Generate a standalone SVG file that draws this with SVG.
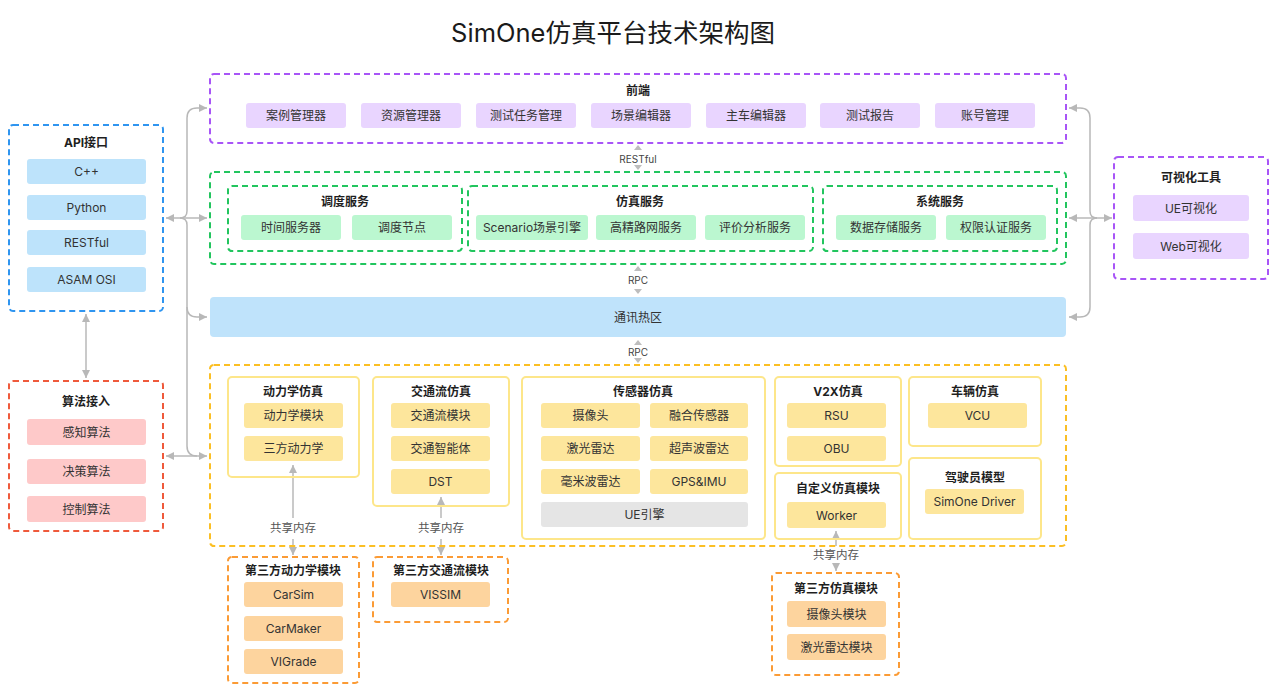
<svg xmlns="http://www.w3.org/2000/svg" width="1280" height="690" viewBox="0 0 1280 690">
<defs>
<marker id="ah" viewBox="0 0 8 8" markerWidth="8" markerHeight="8" refX="8" refY="4" orient="auto-start-reverse" markerUnits="userSpaceOnUse"><path d="M0,0 L8,4 L0,8 z" fill="#b8b8b8"/></marker>
<style>
text{font-family:Inter,"Noto Sans CJK SC",sans-serif;text-anchor:middle;dominant-baseline:central}
.t{font-size:12px;fill:#333}
.h{font-size:12px;font-weight:700;fill:#1f1f1f}
.lbl{font-size:10px;fill:#444}
.sm{font-size:11.5px;fill:#555}
.dash{fill:none;stroke-width:2;stroke-dasharray:6 4}
.pu{stroke:#a855f7}.gr{stroke:#22c55e}.bl{stroke:#2f95f0}.rd{stroke:#ef5a3c}.ye{stroke:#fbbf24}.or{stroke:#fb9b35}
.sub{fill:none;stroke:#fde68a;stroke-width:2}
.ip{fill:#e9d5ff}.ig{fill:#bbf7d0}.ib{fill:#bde3fb}.ir{fill:#fec9c9}.iy{fill:#fde69c}.io{fill:#fdd49e}.ig2{fill:#e5e5e5}
.c{fill:none;stroke:#b8b8b8;stroke-width:1.5}
.tri{fill:#bdbdbd}
</style>
</defs>
<rect width="1280" height="690" fill="#ffffff"/>
<text x="613" y="32" style="font-size:25.5px;fill:#1a1a1a">SimOne仿真平台技术架构图</text>

<g id="connectors">
<path class="c" d="M180 218 Q187 218 187 211 V118 Q187 108 197 108 H207" marker-end="url(#ah)"/>
<path class="c" d="M180 218 Q187 218 187 225 V446 Q187 456 197 456"/>
<path class="c" d="M187 307 Q187 317 197 317 H207" marker-end="url(#ah)"/>
<line class="c" x1="166" y1="218" x2="207" y2="218" marker-start="url(#ah)" marker-end="url(#ah)"/>
<line class="c" x1="166" y1="456" x2="207" y2="456" marker-start="url(#ah)" marker-end="url(#ah)"/>
<line class="c" x1="86" y1="314" x2="86" y2="378" marker-start="url(#ah)" marker-end="url(#ah)"/>
<path class="c" d="M1097 218 Q1090 218 1090 211 V118 Q1090 108 1080 108 H1069" marker-end="url(#ah)"/>
<path class="c" d="M1097 218 Q1090 218 1090 225 V307 Q1090 317 1080 317 H1069" marker-end="url(#ah)"/>
<line class="c" x1="1069" y1="218" x2="1112" y2="218" marker-start="url(#ah)" marker-end="url(#ah)"/>
<polygon class="tri" points="634,150 642,150 638,145"/>
<polygon class="tri" points="634,165 642,165 638,170"/>
<text class="lbl" x="638" y="159">RESTful</text>
<polygon class="tri" points="634,271 642,271 638,266"/>
<polygon class="tri" points="634,289 642,289 638,294"/>
<text class="lbl" x="638" y="280">RPC</text>
<polygon class="tri" points="634,345 642,345 638,340"/>
<polygon class="tri" points="634,358 642,358 638,363"/>
<text class="lbl" x="638" y="352">RPC</text>
<line class="c" x1="293" y1="518" x2="293" y2="465" marker-end="url(#ah)"/>
<line class="c" x1="293" y1="539" x2="293" y2="555" marker-end="url(#ah)"/>
<text class="sm" x="293" y="528">共享内存</text>
<line class="c" x1="441" y1="518" x2="441" y2="497" marker-end="url(#ah)"/>
<line class="c" x1="441" y1="539" x2="441" y2="555" marker-end="url(#ah)"/>
<text class="sm" x="441" y="528">共享内存</text>
<line class="c" x1="836" y1="546" x2="836" y2="531" marker-end="url(#ah)"/>
<line class="c" x1="836" y1="564" x2="836" y2="571" marker-end="url(#ah)"/>
<text class="sm" x="836" y="555">共享内存</text>
</g>

<g id="frontend">
<rect class="dash pu" x="210" y="74" width="856" height="69" rx="4"/>
<text class="h" x="638" y="90">前端</text>
<rect class="ip" x="246" y="103" width="100" height="25" rx="3"/><text class="t" x="296" y="115.5">案例管理器</text>
<rect class="ip" x="361" y="103" width="100" height="25" rx="3"/><text class="t" x="411" y="115.5">资源管理器</text>
<rect class="ip" x="476" y="103" width="100" height="25" rx="3"/><text class="t" x="526" y="115.5">测试任务管理</text>
<rect class="ip" x="591" y="103" width="100" height="25" rx="3"/><text class="t" x="641" y="115.5">场景编辑器</text>
<rect class="ip" x="706" y="103" width="100" height="25" rx="3"/><text class="t" x="756" y="115.5">主车编辑器</text>
<rect class="ip" x="820" y="103" width="100" height="25" rx="3"/><text class="t" x="870" y="115.5">测试报告</text>
<rect class="ip" x="935" y="103" width="100" height="25" rx="3"/><text class="t" x="985" y="115.5">账号管理</text>
</g>

<g id="services">
<rect class="dash gr" x="210" y="172" width="856" height="92" rx="4"/>
<g id="sched">
<rect class="dash gr" x="228" y="186" width="234" height="65" rx="4"/>
<text class="h" x="345" y="201">调度服务</text>
<rect class="ig" x="241" y="215" width="100" height="25" rx="3"/><text class="t" x="291" y="227.5">时间服务器</text>
<rect class="ig" x="352" y="215" width="100" height="25" rx="3"/><text class="t" x="402" y="227.5">调度节点</text>
</g>
<g id="simsvc">
<rect class="dash gr" x="468" y="186" width="345" height="65" rx="4"/>
<text class="h" x="640" y="201">仿真服务</text>
<rect class="ig" x="476" y="215" width="112" height="25" rx="3"/><text class="t" x="532" y="227.5">Scenario场景引擎</text>
<rect class="ig" x="596" y="215" width="100" height="25" rx="3"/><text class="t" x="646" y="227.5">高精路网服务</text>
<rect class="ig" x="705" y="215" width="100" height="25" rx="3"/><text class="t" x="755" y="227.5">评价分析服务</text>
</g>
<g id="syssvc">
<rect class="dash gr" x="823" y="186" width="234" height="65" rx="4"/>
<text class="h" x="940" y="201">系统服务</text>
<rect class="ig" x="836" y="215" width="100" height="25" rx="3"/><text class="t" x="886" y="227.5">数据存储服务</text>
<rect class="ig" x="946" y="215" width="100" height="25" rx="3"/><text class="t" x="996" y="227.5">权限认证服务</text>
</g>
</g>

<g id="comm">
<rect x="210" y="297" width="856" height="40" rx="4" fill="#bfe3fb"/>
<text class="t" x="638" y="317">通讯热区</text>
</g>

<g id="simlayer">
<rect class="dash ye" x="210" y="365" width="856" height="181" rx="4"/>
<g id="dyn">
<rect class="sub" x="228" y="377" width="131" height="100" rx="4"/>
<text class="h" x="293" y="391">动力学仿真</text>
<rect class="iy" x="244" y="403" width="99" height="25" rx="3"/><text class="t" x="293.5" y="415.5">动力学模块</text>
<rect class="iy" x="244" y="436" width="99" height="25" rx="3"/><text class="t" x="293.5" y="448.5">三方动力学</text>
</g>
<g id="traffic">
<rect class="sub" x="373" y="377" width="136" height="129" rx="4"/>
<text class="h" x="441" y="391">交通流仿真</text>
<rect class="iy" x="391" y="403" width="99" height="25" rx="3"/><text class="t" x="440.5" y="415.5">交通流模块</text>
<rect class="iy" x="391" y="436" width="99" height="25" rx="3"/><text class="t" x="440.5" y="448.5">交通智能体</text>
<rect class="iy" x="391" y="469" width="99" height="25" rx="3"/><text class="t" x="440.5" y="481.5">DST</text>
</g>
<g id="sensor">
<rect class="sub" x="522" y="377" width="243" height="162" rx="4"/>
<text class="h" x="643" y="391">传感器仿真</text>
<rect class="iy" x="541" y="403" width="99" height="25" rx="3"/><text class="t" x="590.5" y="415.5">摄像头</text>
<rect class="iy" x="650" y="403" width="98" height="25" rx="3"/><text class="t" x="699" y="415.5">融合传感器</text>
<rect class="iy" x="541" y="436" width="99" height="25" rx="3"/><text class="t" x="590.5" y="448.5">激光雷达</text>
<rect class="iy" x="650" y="436" width="98" height="25" rx="3"/><text class="t" x="699" y="448.5">超声波雷达</text>
<rect class="iy" x="541" y="469" width="99" height="25" rx="3"/><text class="t" x="590.5" y="481.5">毫米波雷达</text>
<rect class="iy" x="650" y="469" width="98" height="25" rx="3"/><text class="t" x="699" y="481.5">GPS&amp;IMU</text>
<rect class="ig2" x="541" y="502" width="207" height="25" rx="3"/><text class="t" x="644.5" y="514.5">UE引擎</text>
</g>
<g id="v2x">
<rect class="sub" x="775" y="377" width="126" height="89" rx="4"/>
<text class="h" x="838" y="391">V2X仿真</text>
<rect class="iy" x="787" y="403" width="99" height="25" rx="3"/><text class="t" x="836.5" y="415.5">RSU</text>
<rect class="iy" x="787" y="436" width="99" height="25" rx="3"/><text class="t" x="836.5" y="448.5">OBU</text>
</g>
<g id="custom">
<rect class="sub" x="775" y="473" width="126" height="66" rx="4"/>
<text class="h" x="838" y="488">自定义仿真模块</text>
<rect class="iy" x="787" y="502" width="99" height="26" rx="3"/><text class="t" x="836.5" y="515">Worker</text>
</g>
<g id="vehicle">
<rect class="sub" x="909" y="377" width="132" height="69" rx="4"/>
<text class="h" x="975" y="391">车辆仿真</text>
<rect class="iy" x="928" y="403" width="99" height="25" rx="3"/><text class="t" x="977.5" y="415.5">VCU</text>
</g>
<g id="driver">
<rect class="sub" x="909" y="458" width="132" height="81" rx="4"/>
<text class="h" x="975" y="477">驾驶员模型</text>
<rect class="iy" x="925" y="489" width="99" height="25" rx="3"/><text class="t" x="974.5" y="501.5">SimOne Driver</text>
</g>
</g>

<g id="thirdDyn">
<rect class="dash or" x="228" y="557" width="131" height="126" rx="4"/>
<text class="h" x="293" y="570">第三方动力学模块</text>
<rect class="io" x="244" y="582" width="99" height="25" rx="3"/><text class="t" x="293.5" y="594.5">CarSim</text>
<rect class="io" x="244" y="616" width="99" height="25" rx="3"/><text class="t" x="293.5" y="628.5">CarMaker</text>
<rect class="io" x="244" y="649" width="99" height="25" rx="3"/><text class="t" x="293.5" y="661.5">VIGrade</text>
</g>
<g id="thirdTraffic">
<rect class="dash or" x="373" y="557" width="135" height="65" rx="4"/>
<text class="h" x="441" y="570">第三方交通流模块</text>
<rect class="io" x="391" y="582" width="99" height="25" rx="3"/><text class="t" x="440.5" y="594.5">VISSIM</text>
</g>
<g id="thirdSim">
<rect class="dash or" x="772" y="573" width="127" height="102" rx="4"/>
<text class="h" x="836" y="588">第三方仿真模块</text>
<rect class="io" x="787" y="601" width="99" height="26" rx="3"/><text class="t" x="836.5" y="614">摄像头模块</text>
<rect class="io" x="787" y="634" width="99" height="26" rx="3"/><text class="t" x="836.5" y="647">激光雷达模块</text>
</g>

<g id="api">
<rect class="dash bl" x="9" y="125" width="154" height="186" rx="4"/>
<text class="h" x="86" y="142">API接口</text>
<rect class="ib" x="27" y="159" width="119" height="25" rx="3"/><text class="t" x="86.5" y="171.5">C++</text>
<rect class="ib" x="27" y="195" width="119" height="25" rx="3"/><text class="t" x="86.5" y="207.5">Python</text>
<rect class="ib" x="27" y="230" width="119" height="25" rx="3"/><text class="t" x="86.5" y="242.5">RESTful</text>
<rect class="ib" x="27" y="267" width="119" height="25" rx="3"/><text class="t" x="86.5" y="279.5">ASAM OSI</text>
</g>

<g id="algo">
<rect class="dash rd" x="9" y="381" width="154" height="150" rx="4"/>
<text class="h" x="86" y="401">算法接入</text>
<rect class="ir" x="27" y="419" width="119" height="26" rx="3"/><text class="t" x="86.5" y="432">感知算法</text>
<rect class="ir" x="27" y="459" width="119" height="25" rx="3"/><text class="t" x="86.5" y="471.5">决策算法</text>
<rect class="ir" x="27" y="496" width="119" height="26" rx="3"/><text class="t" x="86.5" y="509">控制算法</text>
</g>

<g id="vis">
<rect class="dash pu" x="1114" y="157" width="154" height="122" rx="4"/>
<text class="h" x="1191" y="177">可视化工具</text>
<rect class="ip" x="1133" y="195" width="116" height="26" rx="3"/><text class="t" x="1191" y="208">UE可视化</text>
<rect class="ip" x="1133" y="233" width="116" height="26" rx="3"/><text class="t" x="1191" y="246">Web可视化</text>
</g>
</svg>
